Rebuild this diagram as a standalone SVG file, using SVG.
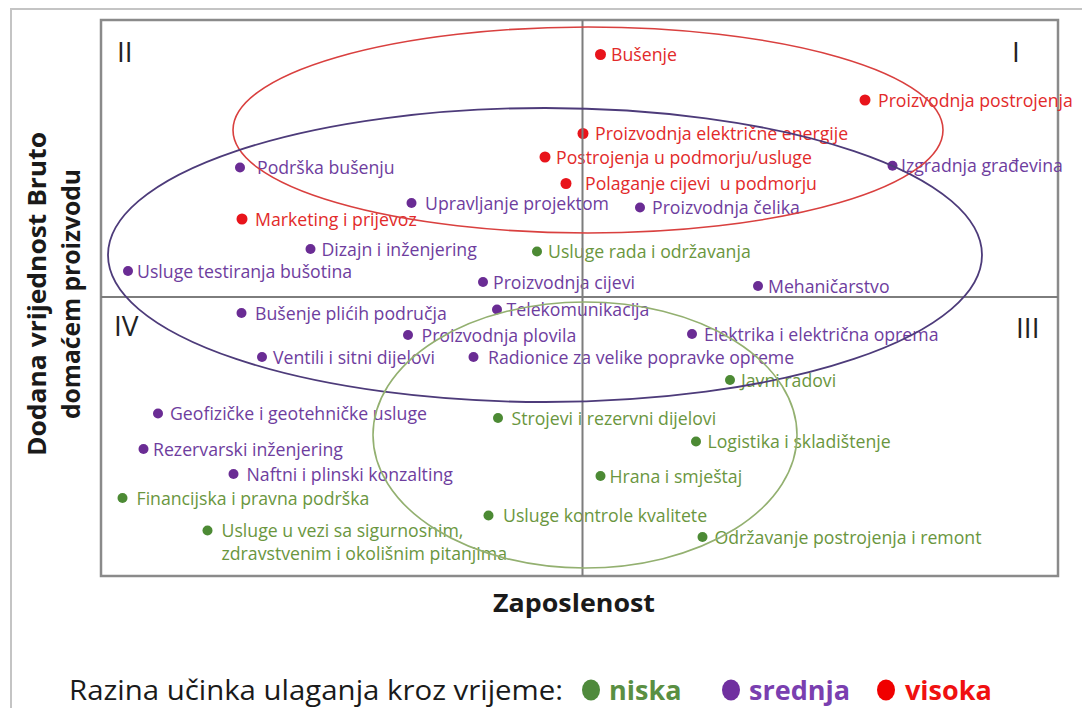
<svg xmlns="http://www.w3.org/2000/svg" width="1082" height="708" viewBox="0 0 1082 708">
<style>
.lbl{font-family:"Open Sans","Noto Sans","Liberation Sans",sans-serif;font-size:17.7px}
.r text{fill:#e22a2a}.r circle{fill:#e8141b}
.p text{fill:#6e3d9e}.p circle{fill:#6a2c94}
.g text{fill:#6a963e}.g circle{fill:#4c8a34}
.q{font-family:"Open Sans","Liberation Sans",sans-serif;font-size:28px;fill:#222}
.ttl{font-family:"Open Sans","Liberation Sans",sans-serif;font-weight:bold;fill:#1a1a1a}
.frame{fill:none;stroke:#8a8a8a;stroke-width:2.5}
.div{stroke:#7d7d7d;stroke-width:2}
.ell{fill:none}
</style>
<rect width="1082" height="708" fill="#fff"/>
<path d="M11 708 V9 H1082" fill="none" stroke="#c4c4c4" stroke-width="2"/>
<rect class="frame" x="101" y="20" width="957" height="556"/>
<text class="q" x="117" y="62">II</text>
<text class="q" x="1012" y="62">I</text>
<text class="q" x="114" y="336">IV</text>
<text class="q" x="1016" y="338">III</text>

<g id="nodes" class="lbl">
<g id="n-busenje" class="r"><circle cx="600.5" cy="54.5" r="5.5"/><text x="611" y="61">Bušenje</text></g>
<g id="n-proizvodnja-postrojenja" class="r"><circle cx="865" cy="100" r="5.5"/><text x="878" y="106.5">Proizvodnja postrojenja</text></g>
<g id="n-elektricna-energija" class="r"><circle cx="583" cy="133.5" r="5.5"/><text x="595" y="139.5">Proizvodnja električne energije</text></g>
<g id="n-postrojenja-podmorje" class="r"><circle cx="545" cy="157" r="5.5"/><text x="556" y="163.5">Postrojenja u podmorju/usluge</text></g>
<g id="n-polaganje" class="r"><circle cx="566" cy="183.5" r="5.5"/><text x="585" y="190" style="white-space:pre" xml:space="preserve">Polaganje cijevi  u podmorju</text></g>
<g id="n-marketing" class="r"><circle cx="242" cy="219" r="5.5"/><text x="255" y="225.5">Marketing i prijevoz</text></g>

<g id="n-podrska" class="p"><circle cx="240" cy="167.5" r="5"/><text x="257" y="174">Podrška bušenju</text></g>
<g id="n-izgradnja" class="p"><circle cx="892.5" cy="165.7" r="5"/><text x="901" y="172">Izgradnja građevina</text></g>
<g id="n-upravljanje" class="p"><circle cx="411.5" cy="203" r="5"/><text x="425" y="209.5">Upravljanje projektom</text></g>
<g id="n-celik" class="p"><circle cx="640" cy="207.5" r="5"/><text x="652" y="214">Proizvodnja čelika</text></g>
<g id="n-dizajn" class="p"><circle cx="310.5" cy="249" r="5"/><text x="321.5" y="255.5">Dizajn i inženjering</text></g>
<g id="n-testiranje" class="p"><circle cx="128" cy="271" r="5"/><text x="137" y="277.5">Usluge testiranja bušotina</text></g>
<g id="n-cijevi" class="p"><circle cx="483" cy="282" r="5"/><text x="493" y="288.5">Proizvodnja cijevi</text></g>
<g id="n-mehanicarstvo" class="p"><circle cx="758" cy="286" r="5"/><text x="768" y="292.5">Mehaničarstvo</text></g>
<g id="n-plici" class="p"><circle cx="241.5" cy="313" r="5"/><text x="255" y="319.5">Bušenje plićih područja</text></g>
<g id="n-telekom" class="p"><circle cx="497" cy="309.5" r="5"/><text x="506.5" y="316">Telekomunikacija</text></g>
<g id="n-plovila" class="p"><circle cx="408" cy="335" r="5"/><text x="421.5" y="341.5">Proizvodnja plovila</text></g>
<g id="n-elektrika" class="p"><circle cx="692" cy="334" r="5"/><text x="704" y="340.5">Elektrika i električna oprema</text></g>
<g id="n-ventili" class="p"><circle cx="262" cy="357" r="5"/><text x="273" y="363.5">Ventili i sitni dijelovi</text></g>
<g id="n-radionice" class="p"><circle cx="473.5" cy="357" r="5"/><text x="488" y="363.5">Radionice za velike popravke opreme</text></g>
<g id="n-geofizicke" class="p"><circle cx="158" cy="413.5" r="5"/><text x="170" y="420">Geofizičke i geotehničke usluge</text></g>
<g id="n-rezervarski" class="p"><circle cx="143.5" cy="449" r="5"/><text x="153" y="455.5">Rezervarski inženjering</text></g>
<g id="n-naftni" class="p"><circle cx="233.5" cy="474" r="5"/><text x="246.5" y="480.5">Naftni i plinski konzalting</text></g>

<g id="n-usluge-rada" class="g"><circle cx="537" cy="251.5" r="5"/><text x="548" y="258">Usluge rada i održavanja</text></g>
<g id="n-javni" class="g"><circle cx="730" cy="380" r="5"/><text x="741" y="386.5">Javni radovi</text></g>
<g id="n-strojevi" class="g"><circle cx="498" cy="418" r="5"/><text x="511.5" y="424.5">Strojevi i rezervni dijelovi</text></g>
<g id="n-logistika" class="g"><circle cx="696" cy="441.5" r="5"/><text x="707.5" y="448">Logistika i skladištenje</text></g>
<g id="n-hrana" class="g"><circle cx="600.5" cy="476" r="5"/><text x="609.5" y="482.5">Hrana i smještaj</text></g>
<g id="n-financijska" class="g"><circle cx="122.5" cy="498" r="5"/><text x="136.5" y="504.5">Financijska i pravna podrška</text></g>
<g id="n-kontrola" class="g"><circle cx="488.5" cy="515.5" r="5"/><text x="503" y="522">Usluge kontrole kvalitete</text></g>
<g id="n-sigurnost" class="g"><circle cx="207.5" cy="530.5" r="5"/><text x="221.5" y="537">Usluge u vezi sa sigurnosnim,</text><text x="221.5" y="560">zdravstvenim i okolišnim pitanjima</text></g>
<g id="n-odrzavanje" class="g"><circle cx="702.5" cy="537" r="5"/><text x="714.5" y="543.5">Održavanje postrojenja i remont</text></g>
</g>

<g id="connectors">
<line class="div" x1="582.5" y1="20" x2="582.5" y2="576"/>
<line class="div" x1="101" y1="297" x2="1058" y2="297"/>
<ellipse class="ell" cx="588" cy="130" rx="355" ry="103" stroke="#d9403f" stroke-width="1.6"/>
<ellipse class="ell" cx="545" cy="255" rx="437" ry="147" stroke="#4d3b7a" stroke-width="1.8"/>
<ellipse class="ell" cx="585" cy="435" rx="212" ry="133" stroke="#93b070" stroke-width="1.6"/>
</g>

<text class="ttl" x="574" y="612" font-size="25" text-anchor="middle" textLength="162" lengthAdjust="spacingAndGlyphs">Zaposlenost</text>
<g transform="translate(46 294) rotate(-90)">
<text class="ttl" x="0" y="0" font-size="25" text-anchor="middle" textLength="324" lengthAdjust="spacingAndGlyphs">Dodana vrijednost Bruto</text>
</g>
<g transform="translate(80 294) rotate(-90)">
<text class="ttl" x="0" y="0" font-size="25" text-anchor="middle" textLength="250" lengthAdjust="spacingAndGlyphs">domaćem proizvodu</text>
</g>

<g id="legend">
<text x="69" y="700" font-family="Open Sans, Liberation Sans, sans-serif" font-size="27" fill="#1a1a1a" textLength="494" lengthAdjust="spacingAndGlyphs">Razina učinka ulaganja kroz vrijeme:</text>
<ellipse cx="591" cy="690" rx="9" ry="10.5" fill="#4f8a3c"/>
<text x="609" y="700" font-family="Open Sans, Liberation Sans, sans-serif" font-size="27" font-weight="bold" fill="#5a8f42">niska</text>
<ellipse cx="731" cy="690" rx="9" ry="10.5" fill="#7030a0"/>
<text x="749" y="700" font-family="Open Sans, Liberation Sans, sans-serif" font-size="27" font-weight="bold" fill="#7a3fb0">srednja</text>
<ellipse cx="886" cy="690" rx="9" ry="10.5" fill="#f00000"/>
<text x="905" y="700" font-family="Open Sans, Liberation Sans, sans-serif" font-size="27" font-weight="bold" fill="#f01010">visoka</text>
</g>
</svg>
